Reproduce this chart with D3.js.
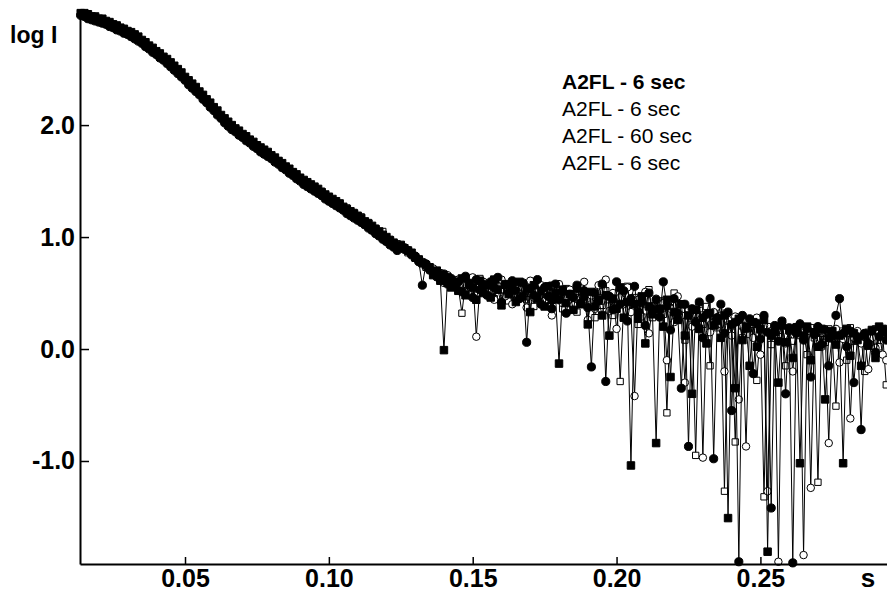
<!DOCTYPE html>
<html>
<head>
<meta charset="utf-8">
<script src="https://cdn.jsdelivr.net/npm/d3@7"></script>
<style>
  html, body { margin: 0; padding: 0; background: #fff; }
  svg { display: block; font-family: "Liberation Sans", Arial, sans-serif; }
  .axis .domain { stroke: #000; stroke-width: 2; }
  .axis line { stroke: #000; stroke-width: 1.5; }
  .axis text { font-size: 25px; font-weight: bold; fill: #000; }
  .legend-label { font-size: 21px; fill: #000; }
</style>
</head>
<body>
<svg id="chart" width="887" height="602"></svg>
<script>
const svg = d3.select("#chart");

// scattering vector s, shared by all four exposures
const sGrid = [
  0.01375, 0.015, 0.01625, 0.0175, 0.01875, 0.02, 0.02125, 0.0225,
  0.02375, 0.025, 0.02625, 0.0275, 0.02875, 0.03, 0.03125, 0.0325,
  0.03375, 0.035, 0.03625, 0.0375, 0.03875, 0.04, 0.04125, 0.0425,
  0.04375, 0.045, 0.04625, 0.0475, 0.04875, 0.05, 0.05125, 0.0525,
  0.05375, 0.055, 0.05625, 0.0575, 0.05875, 0.06, 0.06125, 0.0625,
  0.06375, 0.065, 0.06625, 0.0675, 0.06875, 0.07, 0.07125, 0.0725,
  0.07375, 0.075, 0.07625, 0.0775, 0.07875, 0.08, 0.08125, 0.0825,
  0.08375, 0.085, 0.08625, 0.0875, 0.08875, 0.09, 0.09125, 0.0925,
  0.09375, 0.095, 0.09625, 0.0975, 0.09875, 0.1, 0.10125, 0.1025,
  0.10375, 0.105, 0.10625, 0.1075, 0.10875, 0.11, 0.11125, 0.1125,
  0.11375, 0.115, 0.11625, 0.1175, 0.11875, 0.12, 0.12125, 0.1225,
  0.12375,
  0.125, 0.12625, 0.1275, 0.12875, 0.13, 0.13125, 0.1325, 0.13375,
  0.135, 0.13625, 0.1375, 0.13875, 0.14, 0.14125, 0.1425, 0.14375,
  0.145, 0.14625, 0.1475, 0.14875, 0.15, 0.15125, 0.1525, 0.15375,
  0.155, 0.15625, 0.1575, 0.15875, 0.16, 0.16125, 0.1625, 0.16375,
  0.165, 0.16625, 0.1675, 0.16875, 0.17, 0.17125, 0.1725, 0.17375,
  0.175, 0.17625, 0.1775, 0.17875, 0.18, 0.18125, 0.1825, 0.18375,
  0.185, 0.18625, 0.1875, 0.18875, 0.19, 0.19125, 0.1925, 0.19375,
  0.195, 0.19625, 0.1975, 0.19875, 0.2, 0.20125, 0.2025, 0.20375,
  0.205, 0.20625, 0.2075, 0.20875, 0.21, 0.21125, 0.2125, 0.21375,
  0.215, 0.21625, 0.2175, 0.21875, 0.22, 0.22125, 0.2225, 0.22375,
  0.225, 0.22625, 0.2275, 0.22875, 0.23, 0.23125, 0.2325, 0.23375,
  0.235, 0.23625, 0.2375, 0.23875, 0.24, 0.24125, 0.2425, 0.24375,
  0.245, 0.24625, 0.2475, 0.24875, 0.25, 0.25125, 0.2525, 0.25375,
  0.255, 0.25625, 0.2575, 0.25875, 0.26, 0.26125, 0.2625, 0.26375,
  0.265, 0.26625, 0.2675, 0.26875, 0.27, 0.27125, 0.2725, 0.27375,
  0.275, 0.27625, 0.2775, 0.27875, 0.28, 0.28125, 0.2825, 0.28375,
  0.285, 0.28625, 0.2875, 0.28875, 0.29, 0.29125, 0.2925, 0.29375,
];

// log I, exposure 1 (filled squares)
const logA = [
  3.00, 3.00, 2.99, 2.97, 2.97, 2.95, 2.95, 2.93, 2.92, 2.90,
  2.89, 2.87, 2.86, 2.84, 2.83, 2.81, 2.79, 2.76, 2.74, 2.71,
  2.69, 2.66, 2.64, 2.61, 2.59, 2.56, 2.53, 2.50, 2.47, 2.43,
  2.40, 2.37, 2.34, 2.30, 2.27, 2.23, 2.20, 2.16, 2.13, 2.09,
  2.06, 2.03, 2.00, 1.97, 1.95, 1.92, 1.90, 1.87, 1.85, 1.82,
  1.80, 1.78, 1.76, 1.73, 1.71, 1.68, 1.66, 1.63, 1.61, 1.58,
  1.56, 1.53, 1.51, 1.49, 1.47, 1.45, 1.43, 1.40, 1.38, 1.36,
  1.34, 1.32, 1.30, 1.27, 1.25, 1.23, 1.21, 1.19, 1.17, 1.14,
  1.12, 1.10, 1.07, 1.05, 1.02, 1.00, 0.97, 0.95, 0.92,
  0.93, 0.90, 0.88, 0.86, 0.82, 0.80, 0.77, 0.75,
  0.73, 0.66, 0.70, 0.61, -0.01, 0.64, 0.55, 0.60,
  0.52, 0.63, 0.48, 0.59, 0.55, 0.44, 0.61, 0.50,
  0.57, 0.46, 0.62, 0.53, 0.39, 0.58, 0.49, 0.55,
  0.42, 0.60, 0.47, 0.54, 0.33, 0.57, 0.45, 0.52,
  0.38, 0.56, 0.44, 0.50, -0.13, 0.53, 0.41, 0.49,
  0.35, 0.54, 0.40, 0.47, 0.22, 0.51, 0.38, 0.44,
  0.30, 0.48, 0.12, 0.45, 0.36, 0.55, 0.28, 0.42,
  -1.04, 0.40, 0.27, 0.47, 0.05, 0.38, 0.31, -0.84,
  0.36, 0.20, 0.44, -0.25, 0.33, 0.26, 0.40, 0.12,
  0.30, -0.40, 0.35, 0.18, 0.28, 0.05, 0.32, 0.21,
  0.25, 0.10, 0.30, -1.51, 0.22, -0.35, 0.27, 0.08,
  0.20, -0.15, 0.24, 0.02, 0.18, 0.26, -1.81, 0.12,
  0.15, -0.30, 0.21, 0.06, 0.17, -0.08, 0.19, -1.02,
  0.12, 0.20, -0.10, 0.15, 0.02, 0.18, -0.45, 0.10,
  0.16, 0.04, 0.12, -1.02, 0.18, -0.06, 0.14, 0.08,
  -0.15, 0.12, 0.03, 0.17, -0.08, 0.20, 0.18, 0.15,
];

// exposure 2 (open circles)
const logB = [
  2.99, 2.98, 2.97, 2.96, 2.95, 2.94, 2.93, 2.92, 2.90, 2.88,
  2.87, 2.86, 2.84, 2.82, 2.81, 2.79, 2.77, 2.75, 2.72, 2.69,
  2.67, 2.65, 2.62, 2.59, 2.57, 2.54, 2.51, 2.48, 2.45, 2.42,
  2.38, 2.35, 2.32, 2.29, 2.25, 2.21, 2.18, 2.15, 2.11, 2.07,
  2.04, 2.01, 1.98, 1.96, 1.93, 1.90, 1.88, 1.86, 1.83, 1.80,
  1.78, 1.76, 1.74, 1.72, 1.69, 1.66, 1.64, 1.62, 1.59, 1.56,
  1.54, 1.52, 1.49, 1.47, 1.45, 1.43, 1.41, 1.39, 1.36, 1.34,
  1.32, 1.30, 1.28, 1.26, 1.23, 1.21, 1.19, 1.17, 1.15, 1.12,
  1.10, 1.08, 1.05, 1.02, 1.00, 0.98, 0.95, 0.92, 0.90,
  0.92, 0.91, 0.87, 0.85, 0.83, 0.79, 0.78, 0.74,
  0.70, 0.72, 0.64, 0.68, 0.59, 0.66, 0.61, 0.57,
  0.62, 0.55, 0.58, 0.49, 0.64, 0.11, 0.56, 0.60,
  0.51, 0.59, 0.44, 0.56, 0.62, 0.47, 0.53, 0.40,
  0.58, 0.49, 0.55, 0.37, 0.61, 0.46, 0.52, 0.57,
  0.43, 0.55, 0.30, 0.50, 0.58, 0.41, 0.47, 0.53,
  0.39, 0.52, 0.45, 0.60, 0.26, 0.48, 0.36, 0.57,
  0.43, 0.62, 0.34, 0.50, 0.18, 0.46, 0.40, 0.55,
  0.33, -0.42, 0.44, 0.29, 0.51, 0.14, 0.38, 0.45,
  0.28, 0.41, -0.10, 0.36, 0.24, 0.47, 0.30, -0.30,
  0.35, 0.20, 0.31, 0.40, -0.97, 0.27, 0.15, 0.33,
  0.22, 0.30, -0.20, 0.26, 0.12, 0.29, -0.45, 0.20,
  -0.87, 0.24, 0.10, 0.28, -0.05, 0.21, -1.27, 0.16,
  0.19, -1.90, 0.22, 0.05, 0.17, -0.20, 0.14, 0.23,
  -1.84, 0.16, -1.24, 0.12, 0.20, 0.02, 0.15, -0.84,
  0.11, 0.18, -0.12, 0.09, 0.14, -0.62, 0.10, 0.16,
  0.05, 0.13, -0.18, 0.10, 0.01, 0.15, -0.05, -0.10,
];

// exposure 3, 60 sec (filled circles)
const logC = [
  2.98, 2.97, 2.95, 2.94, 2.93, 2.92, 2.91, 2.90, 2.88, 2.87,
  2.85, 2.84, 2.82, 2.81, 2.79, 2.77, 2.75, 2.73, 2.70, 2.68,
  2.65, 2.63, 2.60, 2.58, 2.55, 2.52, 2.49, 2.46, 2.43, 2.40,
  2.36, 2.33, 2.30, 2.27, 2.23, 2.20, 2.16, 2.13, 2.09, 2.06,
  2.02, 1.99, 1.96, 1.94, 1.91, 1.89, 1.86, 1.84, 1.81, 1.79,
  1.76, 1.74, 1.72, 1.70, 1.67, 1.65, 1.62, 1.60, 1.57, 1.55,
  1.52, 1.50, 1.47, 1.45, 1.43, 1.41, 1.39, 1.37, 1.34, 1.32,
  1.30, 1.28, 1.26, 1.24, 1.21, 1.19, 1.17, 1.15, 1.13, 1.11,
  1.08, 1.06, 1.03, 1.01, 0.98, 0.96, 0.93, 0.91, 0.88,
  0.91, 0.89, 0.88, 0.84, 0.83, 0.78, 0.57, 0.76,
  0.71, 0.69, 0.65, 0.62, 0.67, 0.58, 0.63, 0.56,
  0.60, 0.51, 0.65, 0.57, 0.46, 0.62, 0.53, 0.58,
  0.48, 0.60, 0.55, 0.64, 0.42, 0.57, 0.50, 0.61,
  0.52, 0.45, 0.59, 0.06, 0.54, 0.48, 0.62, 0.40,
  0.55, 0.47, 0.36, 0.58, 0.44, 0.51, 0.32, 0.49,
  0.46, 0.57, 0.41, 0.52, 0.37, -0.16, 0.50, 0.43,
  0.58, -0.29, 0.47, 0.35, 0.60, 0.40, 0.52, 0.25,
  0.45, 0.56, 0.33, 0.42, 0.21, 0.50, 0.36, 0.44,
  0.29, 0.60, 0.38, 0.17, 0.45, 0.32, -0.35, 0.40,
  -0.87, 0.36, 0.24, 0.42, 0.10, 0.31, 0.45, -0.98,
  0.28, 0.40, 0.14, 0.33, -0.55, 0.24, -1.90, 0.30,
  0.18, 0.27, -0.22, 0.23, 0.09, 0.30, 0.15, -1.42,
  0.21, 0.07, 0.25, -0.40, 0.19, -1.91, 0.14, 0.22,
  0.08, 0.18, -0.25, 0.13, 0.20, 0.04, 0.17, -0.15,
  0.12, 0.30, 0.45, 0.14, 0.02, 0.16, -0.30, 0.11,
  -0.72, 0.14, 0.05, 0.16, -0.03, 0.11, 0.17, 0.08,
];

// exposure 4 (open squares)
const logD = [
  3.00, 2.99, 2.98, 2.97, 2.96, 2.95, 2.94, 2.92, 2.91, 2.89,
  2.88, 2.86, 2.85, 2.83, 2.82, 2.80, 2.78, 2.75, 2.73, 2.70,
  2.68, 2.65, 2.63, 2.60, 2.58, 2.55, 2.52, 2.49, 2.46, 2.42,
  2.39, 2.36, 2.33, 2.29, 2.26, 2.22, 2.19, 2.15, 2.12, 2.08,
  2.05, 2.02, 1.99, 1.97, 1.94, 1.91, 1.89, 1.87, 1.84, 1.81,
  1.79, 1.77, 1.75, 1.72, 1.70, 1.68, 1.65, 1.61, 1.60, 1.58,
  1.55, 1.53, 1.50, 1.46, 1.46, 1.44, 1.40, 1.41, 1.37, 1.33,
  1.33, 1.29, 1.30, 1.25, 1.26, 1.20, 1.22, 1.16, 1.18, 1.11,
  1.13, 1.06, 1.08, 1.01, 1.05, 0.96, 0.98, 0.93, 0.94,
  0.92, 0.90, 0.86, 0.85, 0.81, 0.80, 0.76, 0.73,
  0.72, 0.67, 0.69, 0.63, 0.60, 0.65, 0.58, 0.62,
  0.55, 0.32, 0.60, 0.53, 0.57, 0.48, 0.63, 0.52,
  0.56, 0.50, 0.45, 0.61, 0.53, 0.58, 0.43, 0.54,
  0.49, 0.57, 0.51, 0.44, 0.59, 0.38, 0.53, 0.47,
  0.51, 0.40, 0.57, 0.45, 0.49, 0.36, 0.54, 0.42,
  0.48, 0.33, 0.55, 0.44, 0.50, 0.40, 0.28, 0.46,
  0.39, 0.52, 0.44, 0.30, 0.49, -0.29, 0.41, 0.56,
  0.37, 0.46, 0.22, 0.41, 0.34, 0.53, 0.28, 0.39,
  0.43, 0.31, -0.57, 0.37, 0.50, 0.26, 0.35, 0.08,
  0.34, 0.27, -0.95, 0.36, 0.22, 0.38, -0.15, 0.29,
  0.19, 0.32, -1.27, 0.25, 0.15, -0.83, 0.28, 0.10,
  0.26, 0.13, 0.22, -0.28, 0.17, -1.32, 0.20, 0.04,
  0.18, 0.11, 0.24, -0.15, 0.16, 0.07, 0.20, 0.12,
  0.15, -0.05, 0.19, 0.10, -1.19, 0.14, 0.06, 0.18,
  0.09, -0.51, 0.16, 0.12, -0.10, 0.19, 0.07, 0.14,
  0.10, -0.20, 0.15, 0.06, 0.18, 0.02, 0.13, -0.32,
];

const legendLabels = ["A2FL - 6 sec", "A2FL - 6 sec", "A2FL - 60 sec", "A2FL - 6 sec"];
const xTicks = [0.05, 0.10, 0.15, 0.20, 0.25];
const yTicks = [-1.0, 0.0, 1.0, 2.0];

// open markers first so the filled ones sit on top
const series = [
  { values: logD, shape: d3.symbolSquare, size: 40, filled: false },
  { values: logB, shape: d3.symbolCircle, size: 44, filled: false },
  { values: logA, shape: d3.symbolSquare, size: 56, filled: true },
  { values: logC, shape: d3.symbolCircle, size: 52, filled: true },
];

const x = d3.scaleLinear().domain([0.0135, 0.294]).range([80, 887]);
const y = d3.scaleLinear().domain([-1.92, 3.01]).range([564, 12]);

const line = d3
  .line()
  .x((d) => x(d.s))
  .y((d) => y(d.v));

const plot = svg.append("g");

series.forEach((ser) => {
  const pts = sGrid.map((s, i) => ({ s, v: ser.values[i] }));
  plot
    .append("path")
    .attr("d", line(pts))
    .attr("fill", "none")
    .attr("stroke", "#000")
    .attr("stroke-width", 1);

  plot
    .append("g")
    .selectAll("path")
    .data(pts)
    .join("path")
    .attr("transform", (d) => `translate(${x(d.s)},${y(d.v)})`)
    .attr("d", d3.symbol().type(ser.shape).size(ser.size))
    .attr("fill", ser.filled ? "#000" : "#fff")
    .attr("stroke", "#000")
    .attr("stroke-width", 1);
});

svg
  .append("g")
  .attr("class", "axis")
  .attr("transform", "translate(0,564)")
  .call(d3.axisBottom(x).tickValues(xTicks).tickSize(-7).tickSizeOuter(0).tickFormat((d) => d.toFixed(2)))
  .call((g) => g.selectAll("text").attr("y", 5).attr("dy", "0.71em"));

svg
  .append("g")
  .attr("class", "axis")
  .attr("transform", "translate(80,0)")
  .call(d3.axisLeft(y).tickValues(yTicks).tickSize(-9).tickSizeOuter(0).tickFormat((d) => d.toFixed(1)))
  .call((g) => g.selectAll("text").attr("x", -5));

svg
  .append("text")
  .attr("x", 10)
  .attr("y", 43)
  .attr("font-size", 23)
  .attr("font-weight", "bold")
  .text("log I");

svg
  .append("text")
  .attr("x", 868)
  .attr("y", 587)
  .attr("text-anchor", "middle")
  .attr("font-size", 26)
  .attr("font-weight", "bold")
  .text("s");

svg
  .append("g")
  .selectAll("text")
  .data(legendLabels)
  .join("text")
  .attr("class", "legend-label")
  .attr("x", 562)
  .attr("y", (d, i) => 89 + i * 27)
  .attr("font-weight", (d, i) => (i === 0 ? "bold" : "normal"))
  .text((d) => d);
</script>
</body>
</html>
